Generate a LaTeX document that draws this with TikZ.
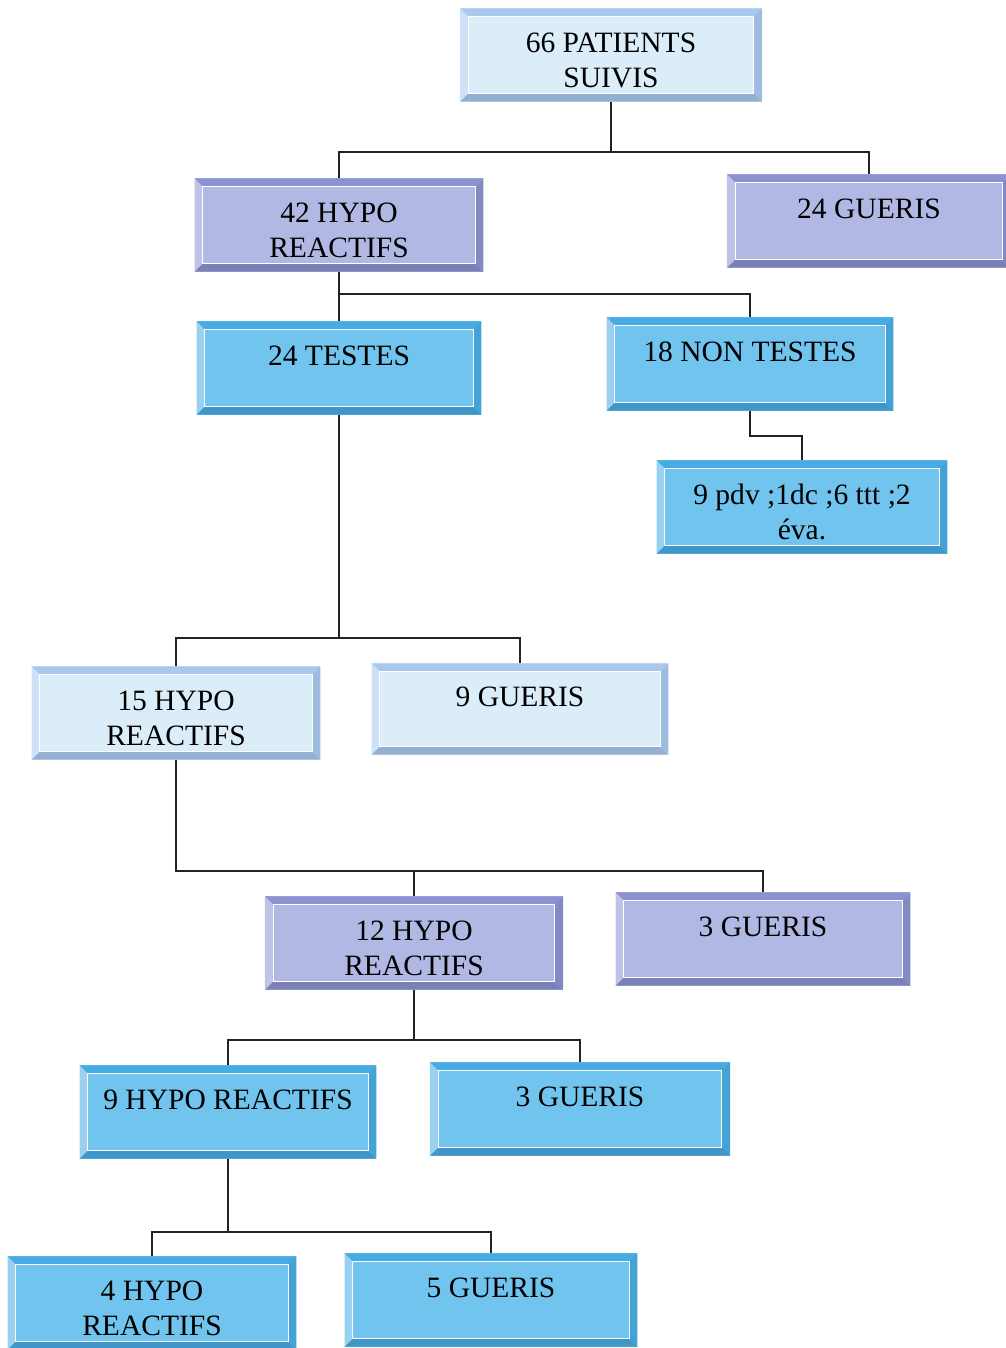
\documentclass[tikz,border=0pt]{standalone}
\usepackage{fontspec}
\setmainfont{Liberation Serif}
\usetikzlibrary{calc}
\definecolor{hellF}{RGB}{220,237,250}
\definecolor{hellR}{RGB}{168,200,238}
\definecolor{lilaF}{RGB}{178,184,228}
\definecolor{lilaR}{RGB}{140,146,208}
\definecolor{blauF}{RGB}{112,196,238}
\definecolor{blauR}{RGB}{72,172,228}
\definecolor{strich}{RGB}{35,35,35}
\newcommand{\kante}{0.21cm}

\begin{document}
\begin{tikzpicture}[x=0.025cm, y=-0.025cm, strich, line width=0.8pt,
    kasten/.style 2 args={rectangle, fill=#1, minimum height=2.33cm, inner sep=0pt,
        align=center, text=black, font=\fontsize{21}{24.5}\selectfont,
        text height=46pt, text depth=0pt,
        path picture={
            \coordinate (a1) at (path picture bounding box.north west);
            \coordinate (a2) at (path picture bounding box.north east);
            \coordinate (a3) at (path picture bounding box.south east);
            \coordinate (a4) at (path picture bounding box.south west);
            \coordinate (i1) at ([shift={(\kante,-\kante)}]a1);
            \coordinate (i2) at ([shift={(-\kante,-\kante)}]a2);
            \coordinate (i3) at ([shift={(-\kante,\kante)}]a3);
            \coordinate (i4) at ([shift={(\kante,\kante)}]a4);
            \fill[#2] (a1) -- (a2) -- (i2) -- (i1) -- cycle;
            \fill[#2!88!black] (a4) -- (a3) -- (i3) -- (i4) -- cycle;
            \fill[#2!55!white] (a1) -- (a4) -- (i4) -- (i1) -- cycle;
            \fill[#2!94!black] (a2) -- (a3) -- (i3) -- (i2) -- cycle;
            \draw[white, line width=0.7pt] (i1) rectangle (i3);
        }},
    hell/.style={kasten={hellF}{hellR}},
    lila/.style={kasten={lilaF}{lilaR}},
    blau/.style={kasten={blauF}{blauR}},
]
\useasboundingbox (0,0) rectangle (1006,1348);

% Kaesten
\node[hell, minimum width=7.55cm] (suivis) at (611,55) {66 PATIENTS\\SUIVIS};

\node[lila, minimum width=7.22cm] (hypoA) at (339,225) {42 HYPO\\REACTIFS};
\node[lila, minimum width=7.1cm] (guerisA) at (869,221) {24 GUERIS\\\mbox{}};

\node[blau, minimum width=7.12cm] (testes) at (339,368) {24 TESTES\\\mbox{}};
\node[blau, minimum width=7.17cm] (nontestes) at (750,364) {18 NON TESTES\\\mbox{}};
\node[blau, minimum width=7.27cm] (pdv) at (802,507) {9 pdv ;1dc ;6 ttt ;2\\éva.};

\node[hell, minimum width=7.22cm] (hypoB) at (176,713) {15 HYPO\\REACTIFS};
\node[hell, minimum width=7.42cm, minimum height=2.28cm] (guerisB) at (520,709) {9 GUERIS\\\mbox{}};

\node[lila, minimum width=7.45cm] (hypoC) at (414,943) {12 HYPO\\REACTIFS};
\node[lila, minimum width=7.37cm] (guerisC) at (763,939) {3 GUERIS\\\mbox{}};

\node[blau, minimum width=7.42cm] (hypoD) at (228,1112) {9 HYPO REACTIFS\\\mbox{}};
\node[blau, minimum width=7.5cm] (guerisD) at (580,1109) {3 GUERIS\\\mbox{}};

\node[blau, minimum width=7.22cm] (hypoE) at (152,1303) {4 HYPO\\REACTIFS};
\node[blau, minimum width=7.32cm] (guerisE) at (491,1300) {5 GUERIS\\\mbox{}};

% Verbindungen
\coordinate (v1) at (611,152);
\draw (suivis.south) -- (v1) -| (hypoA.north);
\draw (v1) -| (guerisA.north);

\coordinate (v2) at (339,294);
\draw (hypoA.south) -- (v2) -| (nontestes.north);
\draw (v2) -- (testes.north);

\coordinate (v3) at (750,436);
\draw (nontestes.south) -- (v3) -| (pdv.north);

\coordinate (v4) at (339,638);
\draw (testes.south) -- (v4) -| (hypoB.north);
\draw (v4) -| (guerisB.north);

\coordinate (v5) at (176,871);
\draw (hypoB.south) -- (v5) -| (guerisC.north);
\draw (v5) -| (hypoC.north);

\coordinate (v6) at (414,1040);
\draw (hypoC.south) -- (v6) -| (hypoD.north);
\draw (v6) -| (guerisD.north);

\coordinate (v7) at (228,1232);
\draw (hypoD.south) -- (v7) -| (hypoE.north);
\draw (v7) -| (guerisE.north);

\end{tikzpicture}
\end{document}
